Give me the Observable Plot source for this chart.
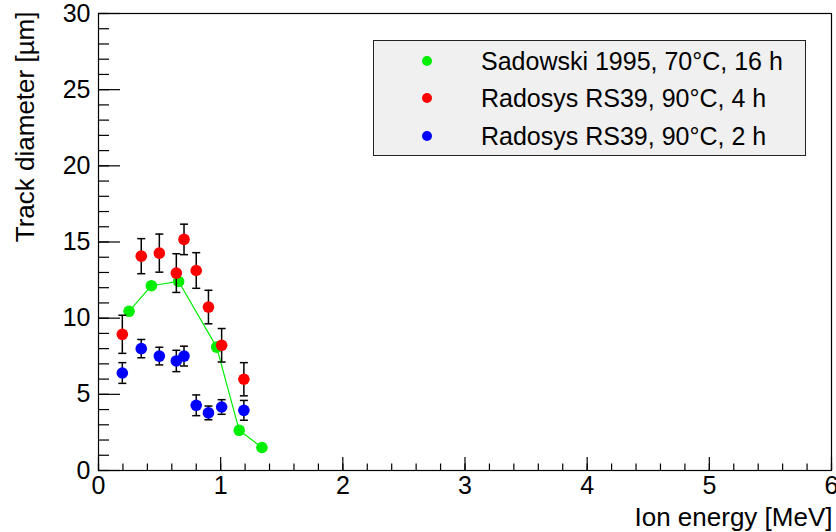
<!DOCTYPE html>
<html>
<head>
<meta charset="utf-8">
<script src="https://cdn.jsdelivr.net/npm/d3@7"></script>
<script src="https://cdn.jsdelivr.net/npm/@observablehq/plot@0.6"></script>
<style>
  body { margin: 0; background: #fff; }
  #wrap { position: relative; width: 836px; height: 532px; font-family: "Liberation Sans", Arial, sans-serif; color: #000; }
  #legend { position: absolute; left: 373px; top: 40px; width: 433px; height: 116px; box-sizing: border-box; background: #f0f0f0; border: 1.5px solid #222; }
  .row { position: absolute; left: 0; height: 30px; line-height: 30px; font-size: 25px; white-space: nowrap; }
  .dot { position: absolute; left: 48px; top: 10px; width: 10px; height: 10px; border-radius: 50%; }
  .lbl { position: absolute; left: 107px; top: 0; }
</style>
</head>
<body>
<div id="wrap">
  <div id="chart"></div>
  <div id="legend"></div>
</div>
<script>
// ---- data ----
const greenX = [0.25, 0.433, 0.656, 0.967, 1.152, 1.338];
const greenY = [10.45, 12.13, 12.41, 8.10, 2.64, 1.51];

const redX   = [0.195, 0.35, 0.498, 0.637, 0.70, 0.80, 0.90, 1.008, 1.19];
const redY   = [8.94, 14.07, 14.27, 12.96, 15.17, 13.13, 10.73, 8.22, 5.99];
const redErr = [1.25, 1.15, 1.25, 1.27, 1.00, 1.17, 1.10, 1.10, 1.09];

const blueX   = [0.195, 0.35, 0.498, 0.637, 0.70, 0.80, 0.90, 1.008, 1.19];
const blueY   = [6.40, 8.00, 7.51, 7.19, 7.51, 4.28, 3.78, 4.17, 3.95];
const blueErr = [0.68, 0.60, 0.58, 0.70, 0.65, 0.68, 0.45, 0.48, 0.65];

const seriesNames  = ["Sadowski 1995, 70°C, 16 h", "Radosys RS39, 90°C, 4 h", "Radosys RS39, 90°C, 2 h"];
const seriesColors = ["#00ee00", "#ff0000", "#0000ff"];

const xLabel = "Ion energy [MeV]";
const yLabel = "Track diameter [µm]";

// ---- tables ----
const green = greenX.map((x, i) => ({x, y: greenY[i]}));
const red   = redX.map((x, i) => ({x, y: redY[i], e: redErr[i]}));
const blue  = blueX.map((x, i) => ({x, y: blueY[i], e: blueErr[i]}));

const cap = { draw(ctx, size) { const w = Math.sqrt(size / Math.PI); ctx.moveTo(-w, 0); ctx.lineTo(w, 0); } };

function errorMarks(data, color) {
  return [
    Plot.ruleX(data, {x: "x", y1: d => d.y - d.e, y2: d => d.y + d.e, stroke: "#000", strokeWidth: 1.5}),
    Plot.dot(data, {x: "x", y: d => d.y + d.e, symbol: cap, r: 4, stroke: "#000", strokeWidth: 1.5, fill: "none"}),
    Plot.dot(data, {x: "x", y: d => d.y - d.e, symbol: cap, r: 4, stroke: "#000", strokeWidth: 1.5, fill: "none"}),
    Plot.dot(data, {x: "x", y: "y", r: 5.8, fill: color})
  ];
}

const chart = Plot.plot({
  width: 836,
  height: 532,
  marginLeft: 98,
  marginRight: 5,
  marginTop: 13,
  marginBottom: 62,
  style: {fontFamily: "Liberation Sans, Arial, sans-serif", fontSize: "25px", color: "#000", background: "#fff"},
  x: {domain: [0, 6]},
  y: {domain: [0, 30]},
  marks: [
    // minor & major ticks, drawn inward
    Plot.axisX({ticks: 30, tickSize: -6.5, fill: "none", label: null, strokeWidth: 1.2}),
    Plot.axisX({ticks: 6, tickSize: -13, fill: "none", label: null, strokeWidth: 1.2}),
    Plot.axisY({ticks: 30, tickSize: -11, fill: "none", label: null, strokeWidth: 1.2}),
    Plot.axisY({ticks: 6, tickSize: -22, fill: "none", label: null, strokeWidth: 1.2}),
    // tick labels
    Plot.axisX({ticks: 6, tickSize: 0, tickPadding: 6, fontSize: 25, label: null}),
    Plot.axisY({ticks: 6, tickSize: 0, tickPadding: 8, fontSize: 25, label: null}),
    Plot.frame({stroke: "#000", strokeWidth: 1.2}),
    // axis titles
    Plot.text([xLabel], {frameAnchor: "bottom-right", text: d => d, textAnchor: "end", lineAnchor: "bottom", dx: 1, dy: 55, fontSize: 26}),
    Plot.text([yLabel], {frameAnchor: "top-left", text: d => d, rotate: -90, textAnchor: "end", lineAnchor: "bottom", dx: -65, dy: -2, fontSize: 26}),
    // green series
    Plot.line(green, {x: "x", y: "y", stroke: seriesColors[0], strokeWidth: 1.2}),
    Plot.dot(green, {x: "x", y: "y", r: 5.8, fill: seriesColors[0]}),
    ...errorMarks(red, seriesColors[1]),
    ...errorMarks(blue, seriesColors[2])
  ]
});
document.getElementById("chart").appendChild(chart);

// legend
const legend = document.getElementById("legend");
const rowCenters = [20, 57, 95];
seriesNames.forEach((name, i) => {
  const row = document.createElement("div");
  row.className = "row";
  row.style.top = (rowCenters[i] - 15) + "px";
  row.style.width = "100%";
  const dot = document.createElement("span");
  dot.className = "dot";
  dot.style.background = seriesColors[i];
  const lbl = document.createElement("span");
  lbl.className = "lbl";
  lbl.textContent = name;
  row.appendChild(dot);
  row.appendChild(lbl);
  legend.appendChild(row);
});
</script>
</body>
</html>
